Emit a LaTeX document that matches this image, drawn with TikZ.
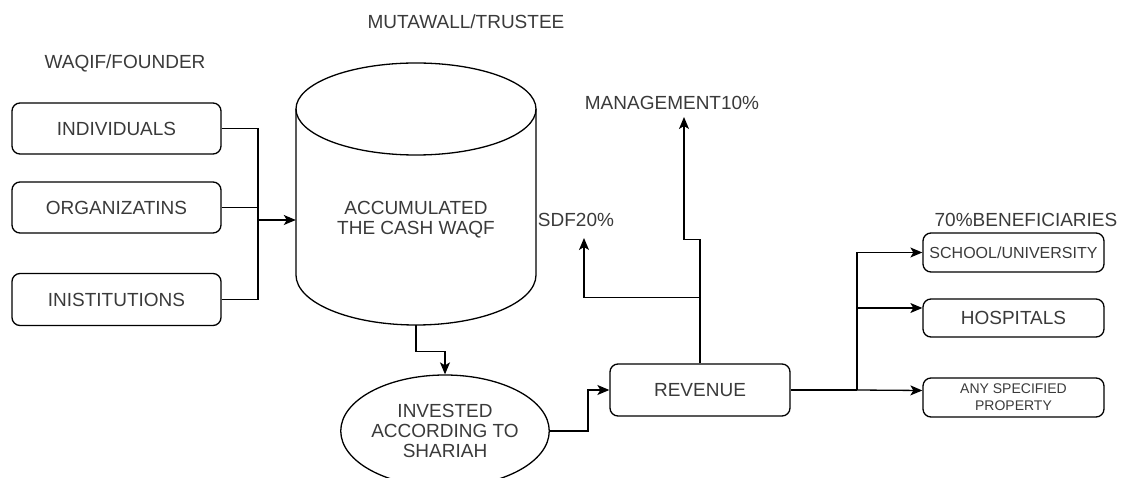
\documentclass[tikz,border=0pt]{standalone}
\usepackage{fontspec}
\setmainfont{Liberation Sans}
\usepackage{tikz}
\usetikzlibrary{arrows.meta,positioning,shapes.geometric}
\definecolor{txtgray}{HTML}{3A3A3A}
\tikzset{
  line/.style={line width=1.3pt,black},
  box/.style={draw,line width=1.3pt,rounded corners=8pt,inner sep=0pt},
  lbl/.style={inner sep=0pt},
  every node/.style={font=\fontsize{19}{20}\selectfont,text=txtgray,align=center}
}
\tikzstyle{arrow} = [line width=1.3pt,-{Stealth[length=12pt,width=10pt,inset=3pt]}]

\begin{document}
\begin{tikzpicture}[x=1pt,y=-1pt]
  \useasboundingbox (0,0) rectangle (1125,478);
  \clip (0,0) rectangle (1125,478);
  \node[lbl] (trustee) at (466,22) {MUTAWALL/TRUSTEE};
  \node[lbl] (waqif) at (125,63) {WAQIF/FOUNDER};
  \node[box,minimum width=209pt,minimum height=51pt] (indiv) at (116.5,128.5) {INDIVIDUALS};
  \node[box,minimum width=209pt,minimum height=51pt] (org) at (116.5,207.5) {ORGANIZATINS};
  \node[box,minimum width=209pt,minimum height=52pt] (inst) at (116.5,299.5) {INISTITUTIONS};
  \node[minimum width=240pt,minimum height=262pt,inner sep=0pt] (pool) at (416,194) {};
  \draw[line] (296,109) -- (296,275) arc[start angle=180,end angle=360,x radius=120pt,y radius=50pt] -- (536,109);
  \draw[line] (416,109) ellipse[x radius=120pt,y radius=46pt];
  \node[lbl] (pooltxt) at (416,220) {ACCUMULATED\\THE CASH WAQF};
  \node[draw,ellipse,line width=1.3pt,minimum width=180pt,minimum height=112pt,inner sep=0pt] (invest) at (445,431) {INVESTED\\ACCORDING TO\\SHARIAH};
  \node[box,minimum width=180pt,minimum height=52pt] (revenue) at (700,390) {REVENUE};
  \node[lbl] (mgmt) at (672,103) {MANAGEMENT10\%};
  \node[lbl] (sdf) at (576,220) {SDF20\%};
  \node[lbl] (benef) at (1026,220) {70\%BENEFICIARIES};
  \node[box,minimum width=181pt,minimum height=39pt,font=\fontsize{16}{17}\selectfont] (school) at (1013.5,252.5) {SCHOOL/UNIVERSITY};
  \node[box,minimum width=181pt,minimum height=38pt] (hosp) at (1013.5,318) {HOSPITALS};
  \node[box,minimum width=181pt,minimum height=39pt,font=\fontsize{14}{17}\selectfont] (prop) at (1013.5,397.5) {ANY SPECIFIED\\PROPERTY};
  \coordinate (join) at (258,220);
  \coordinate (split) at (857,390);
  \coordinate (mgmtin) at (684,117);
  \coordinate (sdfin) at (584,238);
  \draw[line] (indiv.east) -| (join);
  \draw[line] (inst.east) -| (join);
  \draw[line] (org.east) -- (org.east -| join);
  \draw[arrow] (join) -- (pool.west |- join);
  \draw[arrow] (pool.south) -- ++(0,26) -| (invest.north);
  \draw[arrow] (invest.east) -- ++(38,0) |- (revenue.west);
  \draw[arrow] (revenue.north) -- ++(0,-124) -| (mgmtin);
  \draw[arrow] (revenue.north) ++(0,-66) -| (sdfin);
  \draw[line] (revenue.north) -- ++(0,-66);
  \draw[line] (revenue.east) -- (split);
  \draw[arrow] (split) |- (school.west);
  \draw[arrow] (split |- 0,308) -- ([yshift=10pt]hosp.west);
  \draw[arrow] (split) -- ([yshift=7pt]prop.west);
\end{tikzpicture}
\end{document}
